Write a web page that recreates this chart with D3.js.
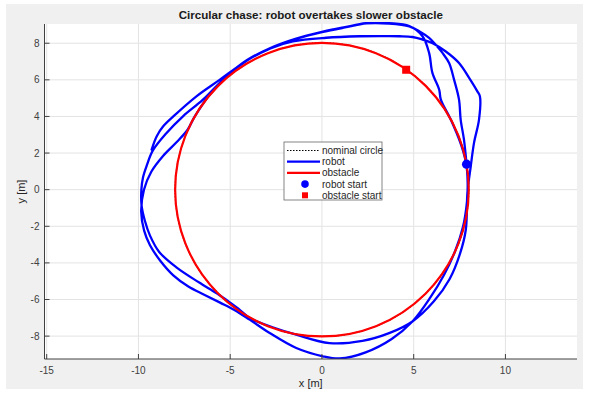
<!DOCTYPE html>
<html><head><meta charset="utf-8">
<script src="https://cdn.jsdelivr.net/npm/d3@7"></script>
<style>body{margin:0;background:#fff}svg{display:block}text{font-family:"Liberation Sans",Arial,sans-serif}</style>
</head><body>
<script>
// ---- data ----
const titleText = "Circular chase: robot overtakes slower obstacle";
const xTicks = [-15, -10, -5, 0, 5, 10];
const yTicks = [-8, -6, -4, -2, 0, 2, 4, 6, 8];
const xDomain = [-15.12, 13.9];
const yDomain = [-9.25, 9.05];
const circleCenter = [0, 0];
const circleRadius = 8;
const robotStart = [7.88, 1.39];
const obstacleStart = [4.59, 6.55];
const robotX = [7.88,7.74,7.56,7.47,7.20,6.93,6.57,6.20,5.84,5.30,4.76,3.66,2.43,1.25,0,-1.45,-2.81,-4.08,-5.19,-6.14,-6.93,-7.33,-7.94,-8.66,-9.30,-9.70,-9.85,-9.69,-9.37,-8.79,-8.10,-7.28,-6.39,-5.55,-4.77,-3.94,-2.85,-1.40,0.05,0.97,2.38,3.80,4.93,5.90,6.65,7.25,7.68,7.90,7.94,7.86,
  7.58,7.02,6.48,6.39,6.02,5.84,5.48,4.76,3.66,2.43,1.25,0,-1.45,-2.81,-4.08,-5.19,-6.50,-7.56,-8.48,-9.22,-9.54,-9.75,-9.84,-9.83,-9.65,-9.37,-8.87,-7.95,-6.71,-5.69,-5.00,-4.45,-3.90,-2.73,-1.40,0.41,2.21,3.66,4.93,6.10,6.96,7.52,7.84,7.93,
  8.11,8.29,8.56,8.61,8.47,8.02,7.47,6.75,6.03,5.48,4.93,4.21,3.67,2.04,0.23,-1.59,-2.81,-4.08,-5.56,-6.84,-8.10,-8.65,-9.01,-9.28];
const robotY = [1.39,2.73,3.83,4.92,6.01,6.92,7.47,7.92,8.29,8.65,8.92,9.07,9.08,8.86,8.60,8.22,7.72,7.06,6.19,5.16,4.00,3.26,2.58,1.84,0.98,0,-1.21,-2.24,-3.04,-3.91,-4.68,-5.29,-5.75,-6.17,-6.57,-7.10,-7.83,-8.65,-9.10,-9.22,-8.89,-8.16,-7.20,-5.90,-4.66,-3.38,-2.06,-0.69,0.42,1.42,
  2.46,3.83,4.92,5.46,6.38,7.47,8.38,8.94,9.09,9.10,8.88,8.62,8.24,7.74,7.08,6.21,4.90,4.02,3.08,2.13,1.34,0.68,0,-0.86,-1.70,-2.51,-3.40,-4.23,-5.06,-5.69,-6.18,-6.59,-7.04,-7.50,-7.92,-8.38,-8.26,-7.84,-7.20,-6.10,-4.88,-3.51,-2.19,-0.14,
  1.28,2.57,3.83,5.09,5.37,6.11,6.92,7.55,8.00,8.20,8.34,8.38,8.39,8.38,8.30,8.10,7.72,7.06,6.01,5.10,4.00,3.46,2.91,2.19];
const legendLabels = ["nominal circle", "robot", "obstacle", "robot start", "obstacle start"];

// ---- layout ----
const W = 589, H = 393;
const plot = {left: 44.5, right: 577, top: 24, bottom: 359};
const svg = d3.select("body").append("svg").attr("width", W).attr("height", H);
svg.append("rect").attr("x", 6).attr("y", 4).attr("width", 577).attr("height", 385).attr("fill", "#f0f0f0");
svg.append("rect").attr("x", plot.left).attr("y", plot.top).attr("width", plot.right - plot.left).attr("height", plot.bottom - plot.top).attr("fill", "#fff");

const x = d3.scaleLinear().domain(xDomain).range([plot.left, plot.right]);
const y = d3.scaleLinear().domain(yDomain).range([plot.bottom, plot.top]);

// grid
const g = svg.append("g");
g.selectAll(".gx").data(xTicks).join("line")
  .attr("x1", d => x(d)).attr("x2", d => x(d)).attr("y1", plot.top).attr("y2", plot.bottom)
  .attr("stroke", "#e3e3e3").attr("stroke-width", 1);
g.selectAll(".gy").data(yTicks).join("line")
  .attr("y1", d => y(d)).attr("y2", d => y(d)).attr("x1", plot.left).attr("x2", plot.right)
  .attr("stroke", "#e3e3e3").attr("stroke-width", 1);

// clip
svg.append("clipPath").attr("id", "clip").append("rect")
  .attr("x", plot.left).attr("y", plot.top - 2).attr("width", plot.right - plot.left).attr("height", plot.bottom - plot.top + 2);
const pg = svg.append("g").attr("clip-path", "url(#clip)");

// nominal circle
pg.append("circle").attr("cx", x(circleCenter[0])).attr("cy", y(circleCenter[1]))
  .attr("r", x(circleRadius) - x(0)).attr("fill", "none").attr("stroke", "#000")
  .attr("stroke-width", 1.2).attr("stroke-dasharray", "1.5,1.5");

// robot path
const pts = robotX.map((v, i) => [v, robotY[i]]);
const line = d3.line().x(d => x(d[0])).y(d => y(d[1])).curve(d3.curveCatmullRom.alpha(0.5));
pg.append("path").attr("d", line(pts)).attr("fill", "none").attr("stroke", "#0000ff")
  .attr("stroke-width", 2.3).attr("stroke-linejoin", "round").attr("stroke-linecap", "round");

// obstacle circle
pg.append("circle").attr("cx", x(circleCenter[0])).attr("cy", y(circleCenter[1]))
  .attr("r", x(circleRadius) - x(0)).attr("fill", "none").attr("stroke", "#ff0000").attr("stroke-width", 2.2);

// markers
pg.append("circle").attr("cx", x(robotStart[0])).attr("cy", y(robotStart[1])).attr("r", 4.6).attr("fill", "#0000ff");
pg.append("rect").attr("x", x(obstacleStart[0]) - 4).attr("y", y(obstacleStart[1]) - 4).attr("width", 8).attr("height", 8).attr("fill", "#ff0000");

// axes
const axCol = "#404040";
svg.append("line").attr("x1", plot.left).attr("x2", plot.left).attr("y1", plot.top).attr("y2", plot.bottom).attr("stroke", axCol);
svg.append("line").attr("x1", plot.left).attr("x2", plot.right).attr("y1", plot.bottom).attr("y2", plot.bottom).attr("stroke", axCol);
svg.selectAll(".tx").data(xTicks).join("line").attr("x1", d => x(d)).attr("x2", d => x(d))
  .attr("y1", plot.bottom).attr("y2", plot.bottom - 5).attr("stroke", axCol);
svg.selectAll(".ty").data(yTicks).join("line").attr("y1", d => y(d)).attr("y2", d => y(d))
  .attr("x1", plot.left).attr("x2", plot.left + 5).attr("stroke", axCol);
svg.selectAll(".lx").data(xTicks).join("text").attr("x", d => x(d)).attr("y", plot.bottom + 15)
  .attr("text-anchor", "middle").attr("font-size", 10).attr("fill", "#404040").text(d => d);
svg.selectAll(".ly").data(yTicks).join("text").attr("x", plot.left - 5).attr("y", d => y(d) + 3.5)
  .attr("text-anchor", "end").attr("font-size", 10).attr("fill", "#404040").text(d => d);
svg.append("text").attr("x", (plot.left + plot.right) / 2).attr("y", 387).attr("text-anchor", "middle")
  .attr("font-size", 11).attr("fill", "#262626").text("x [m]");
svg.append("text").attr("transform", `translate(25,${(plot.top + plot.bottom) / 2}) rotate(-90)`)
  .attr("text-anchor", "middle").attr("font-size", 11).attr("fill", "#262626").text("y [m]");
svg.append("text").attr("x", (plot.left + plot.right) / 2).attr("y", 19).attr("text-anchor", "middle")
  .attr("font-size", 11.6).attr("font-weight", "bold").attr("fill", "#1a1a1a").text(titleText);

// legend
const lg = svg.append("g").attr("transform", "translate(284,142)");
lg.append("rect").attr("width", 98).attr("height", 58).attr("fill", "#fff").attr("stroke", "#666").attr("stroke-width", 0.8);
const rowY = i => 8.5 + i * 11.2;
lg.selectAll("text").data(legendLabels).join("text").attr("x", 38).attr("y", (d, i) => rowY(i) + 3.5)
  .attr("font-size", 10).attr("fill", "#262626").text(d => d);
lg.append("line").attr("x1", 3).attr("x2", 36).attr("y1", rowY(0)).attr("y2", rowY(0)).attr("stroke", "#000").attr("stroke-width", 1.2).attr("stroke-dasharray", "1.5,1.5");
lg.append("line").attr("x1", 3).attr("x2", 36).attr("y1", rowY(1)).attr("y2", rowY(1)).attr("stroke", "#0000ff").attr("stroke-width", 2.2);
lg.append("line").attr("x1", 3).attr("x2", 36).attr("y1", rowY(2)).attr("y2", rowY(2)).attr("stroke", "#ff0000").attr("stroke-width", 2.2);
lg.append("circle").attr("cx", 21).attr("cy", rowY(3)).attr("r", 3.8).attr("fill", "#0000ff");
lg.append("rect").attr("x", 18).attr("y", rowY(4) - 3).attr("width", 6).attr("height", 6).attr("fill", "#ff0000");
</script>
</body></html>
